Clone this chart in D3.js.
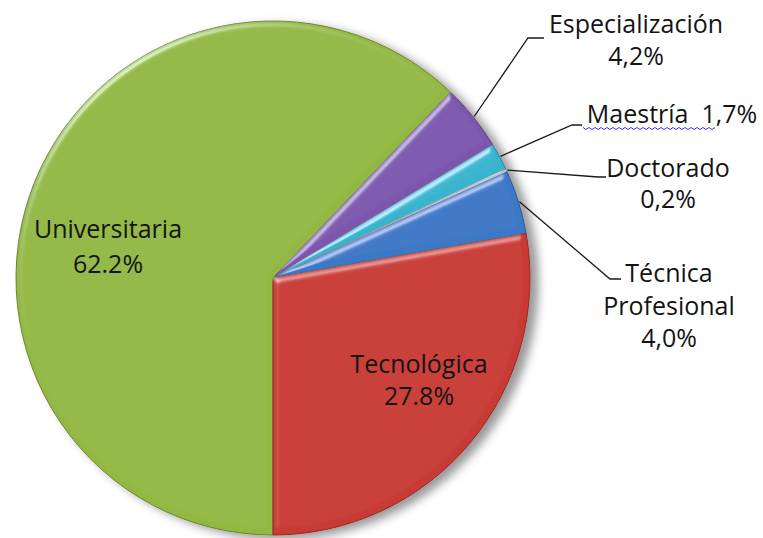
<!DOCTYPE html>
<html>
<head>
<meta charset="utf-8">
<script src="https://cdn.jsdelivr.net/npm/d3@7"></script>
<style>
  html, body { margin: 0; padding: 0; background: #fff; }
  svg { display: block; }
  text { font-family: "Open Sans", sans-serif; fill: #141414; }
</style>
</head>
<body>
<svg id="chart"></svg>
<script>
// datos del gráfico
const categories = ["Universitaria", "Especialización", "Maestría", "Doctorado", "Técnica Profesional", "Tecnológica"];
const values = [62.2, 4.2, 1.7, 0.2, 4.0, 27.8];
const valueLabels = ["62.2%", "4,2%", "1,7%", "0,2%", "4,0%", "27.8%"];
const colors = ["#93b843", "#7c57ad", "#38b4cf", "#b9c6d6", "#3b78c6", "#c83a35"];

// posición de las etiquetas (líneas de texto y guías)
const labelLayout = [
  { lines: ["Universitaria", "62.2%"], x: 108, y: 238, dy: 35, leader: null },
  { lines: ["Especialización", "4,2%"], x: 636, y: 33, dy: 32, leader: [[528, 38], [544, 38]] },
  { lines: ["Maestría  1,7%"], x: 672, y: 123, dy: 0, leader: [[572, 125], [582, 125]] },
  { lines: ["Doctorado", "0,2%"], x: 668, y: 177, dy: 31, leader: [[598, 177], [606, 177]] },
  { lines: ["Técnica", "Profesional", "4,0%"], x: 669, y: 282, dy: 32.5, leader: [[610, 279], [621, 279]] },
  { lines: ["Tecnológica", "27.8%"], x: 419, y: 373, dy: 32, leader: null }
];

const width = 763, height = 538;
const cx = 273, cy = 278, radius = 257;

const svg = d3.select("#chart")
  .attr("width", width)
  .attr("height", height);

const defs = svg.append("defs");

// sombra
const shadow = defs.append("filter").attr("id", "shadow")
  .attr("x", "-10%").attr("y", "-10%").attr("width", "130%").attr("height", "130%");
shadow.append("feDropShadow")
  .attr("dx", 8).attr("dy", 4).attr("stdDeviation", 5)
  .attr("flood-color", "#000").attr("flood-opacity", 0.4);

// bisel de cada porción
const bevel = defs.append("filter").attr("id", "bevel")
  .attr("x", "-5%").attr("y", "-5%").attr("width", "110%").attr("height", "110%");
bevel.append("feGaussianBlur").attr("in", "SourceAlpha").attr("stdDeviation", 3).attr("result", "blur");
const spec = bevel.append("feSpecularLighting")
  .attr("in", "blur").attr("surfaceScale", 5).attr("specularConstant", 0.7)
  .attr("specularExponent", 20).attr("lighting-color", "#ffffff").attr("result", "spec");
spec.append("feDistantLight").attr("azimuth", 235).attr("elevation", 22);
bevel.append("feComposite").attr("in", "spec").attr("in2", "SourceAlpha").attr("operator", "in").attr("result", "specOut");
bevel.append("feComposite").attr("in", "SourceGraphic").attr("in2", "specOut")
  .attr("operator", "arithmetic").attr("k1", 0).attr("k2", 1).attr("k3", 0.6).attr("k4", 0);

const pie = d3.pie()
  .sort(null)
  .value(d => d)
  .startAngle(Math.PI)
  .endAngle(3 * Math.PI);

const arcs = pie(values);

const arc = d3.arc().innerRadius(0).outerRadius(radius);
const edgeArc = d3.arc().innerRadius(radius + 1).outerRadius(radius + 1);

const g = svg.append("g").attr("transform", `translate(${cx},${cy})`);

const slices = g.append("g").attr("filter", "url(#shadow)");

slices.selectAll("path")
  .data(arcs)
  .enter().append("path")
  .attr("d", arc)
  .attr("fill", (d, i) => colors[i])
  .attr("stroke", (d, i) => d3.color(colors[i]).darker(0.9))
  .attr("stroke-width", 1)
  .attr("filter", "url(#bevel)");

// líneas guía
const leaderLine = d3.line();
labelLayout.forEach((lab, i) => {
  if (!lab.leader) return;
  const p = edgeArc.centroid(arcs[i]);
  const pts = [[p[0] + cx, p[1] + cy]].concat(lab.leader);
  svg.append("path")
    .attr("d", leaderLine(pts))
    .attr("fill", "none")
    .attr("stroke", "#1a1a1a")
    .attr("stroke-width", 1.3);
});

// etiquetas
const labels = svg.append("g");
labelLayout.forEach(lab => {
  const t = labels.append("text")
    .attr("text-anchor", "middle")
    .style("font-size", "25px")
    .style("white-space", "pre");
  lab.lines.forEach((line, k) => {
    t.append("tspan")
      .attr("x", lab.x)
      .attr("y", lab.y + k * lab.dy)
      .text(line);
  });
});

// subrayado ondulado del corrector bajo "Maestría"
const wave = [];
for (let x = 583; x <= 717; x += 3) wave.push([x, 128 + ((x - 583) / 3 % 2 ? 1.5 : -0.5)]);
svg.append("path")
  .attr("d", d3.line()(wave))
  .attr("fill", "none")
  .attr("stroke", "#3a3ae0")
  .attr("stroke-width", 1);
</script>
</body>
</html>
